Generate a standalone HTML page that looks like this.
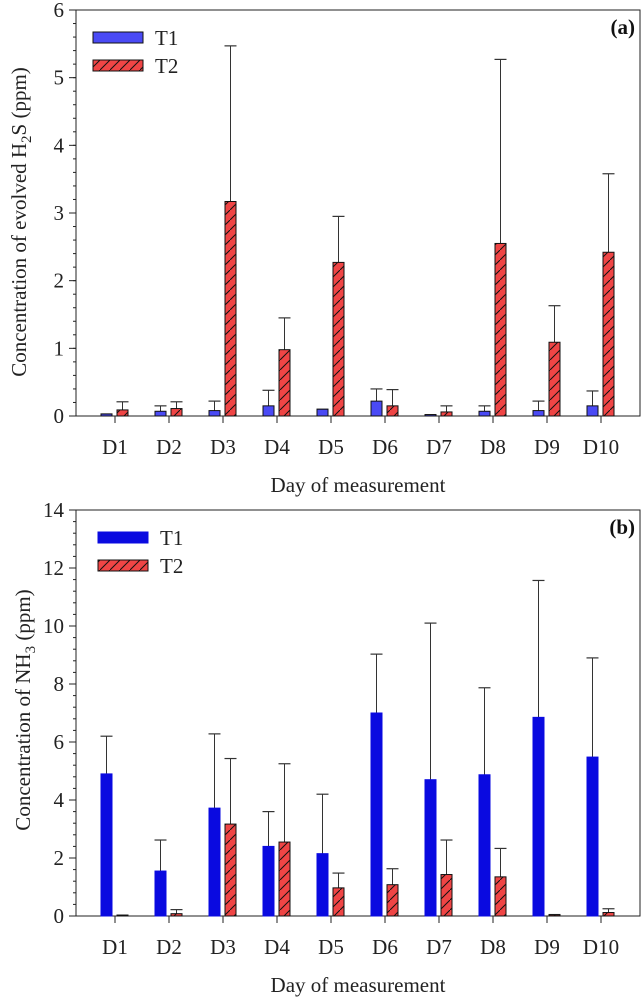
<!DOCTYPE html>
<html><head><meta charset="utf-8">
<style>
html,body{margin:0;padding:0;background:#fff;}
svg{display:block;font-family:"Liberation Serif",serif;}
</style></head>
<body>
<svg id="chart" width="644" height="998" viewBox="0 0 644 998" xmlns="http://www.w3.org/2000/svg">
<defs>
<pattern id="hatch" patternUnits="userSpaceOnUse" width="10" height="10">
<rect width="10" height="10" fill="#ef4545"/>
<path d="M-2,12 L12,-2" stroke="#111" stroke-width="1"/>
</pattern>
</defs>
</svg>
<script>
const categories = ["D1","D2","D3","D4","D5","D6","D7","D8","D9","D10"];
const h2sT1 = [0.03,0.07,0.08,0.15,0.10,0.22,0.02,0.07,0.08,0.15];
const h2sT1Err = [0.03,0.15,0.22,0.38,0.10,0.40,0.02,0.15,0.22,0.37];
const h2sT2 = [0.09,0.11,3.17,0.98,2.27,0.15,0.06,2.55,1.09,2.42];
const h2sT2Err = [0.21,0.21,5.47,1.45,2.95,0.39,0.15,5.27,1.63,3.58];
const nh3T1 = [4.9,1.55,3.72,2.4,2.15,7.0,4.7,4.87,6.85,5.48];
const nh3T1Err = [6.2,2.62,6.28,3.6,4.2,9.03,10.1,7.87,11.57,8.9];
const nh3T2 = [0.03,0.08,3.17,2.55,0.97,1.08,1.43,1.35,0.04,0.12];
const nh3T2Err = [0.03,0.22,5.43,5.25,1.48,1.63,2.62,2.33,0.05,0.25];
const h2sTicks = [0,1,2,3,4,5,6];
const nh3Ticks = [0,2,4,6,8,10,12,14];

const svg = document.getElementById('chart');
const NS = "http://www.w3.org/2000/svg";
function mk(tag, attrs, parent){
  const e = document.createElementNS(NS, tag);
  for (const k in attrs) e.setAttribute(k, attrs[k]);
  (parent||svg).appendChild(e);
  return e;
}

function panel(cfg){
  const g = mk('g', {});
  
  
  const L=76, R=640, T=cfg.top, B=cfg.top+406;
  const y = v => B - (v/cfg.max)*(B-T);
  const xc = i => 115 + i*54;
  const frame = mk('rect', {x:L, y:T, width:R-L, height:B-T, fill:'none', stroke:'#222', 'stroke-width':1}, g);
  
  
  const minorStep = cfg.major/5;
  for (let v=0; v<=cfg.max+1e-9; v+=minorStep){
    mk('line', {x1:L-3, x2:L, y1:y(v), y2:y(v), stroke:'#222'}, g);
  }
  cfg.ticks.forEach(t=>{
    mk('line', {x1:L-7, x2:L, y1:y(t), y2:y(t), stroke:'#222'}, g);
    const tx = mk('text', {x:L-12, y:y(t)+7, 'text-anchor':'end', 'font-size':21, fill:'#222'}, g);
    tx.textContent = t;
    
    
  });
  categories.forEach((c,i)=>{
    mk('line', {x1:xc(i), x2:xc(i), y1:B, y2:B+7, stroke:'#222'}, g);
    const tx = mk('text', {x:xc(i), y:B+38, 'text-anchor':'middle', 'font-size':21, fill:'#222'}, g);
    tx.textContent = c;
    
    
  });
  function drawSeries(vals, errs, off, fill, stroke, nm){
    vals.forEach((v,i)=>{
      const cx = xc(i)+off;
      const et = y(errs[i]);
      mk('line', {x1:cx, x2:cx, y1:et, y2:y(v), stroke:'#333', 'stroke-width':1}, g);
      mk('line', {x1:cx-6, x2:cx+6, y1:et, y2:et, stroke:'#333', 'stroke-width':1.2}, g);
      const r = mk('rect', {x:cx-5.5, y:y(v), width:11, height:Math.max(B-y(v),0.5), fill:fill, stroke:stroke, 'stroke-width':1}, g);
      
      
    });
  }
  drawSeries(cfg.t1, cfg.t1e, -8.5, cfg.t1fill, cfg.t1stroke, 't1');
  drawSeries(cfg.t2, cfg.t2e, 7.5, 'url(#hatch)', '#111', 't2');
  const l1 = mk('rect', {x:cfg.legX, y:T+22, width:50, height:11, fill:cfg.t1fill, stroke:cfg.t1stroke}, g);
  
  
  const l2 = mk('rect', {x:cfg.legX, y:T+50, width:50, height:11, fill:'url(#hatch)', stroke:'#111'}, g);
  
  
  const lt1 = mk('text', {x:cfg.legX+62, y:T+35, 'font-size':21, fill:'#222'}, g);
  lt1.textContent = 'T1';
  
  
  const lt2 = mk('text', {x:cfg.legX+62, y:T+63, 'font-size':21, fill:'#222'}, g);
  lt2.textContent = 'T2';
  
  
  const pl = mk('text', {x:R-5, y:T+24, 'text-anchor':'end', 'font-size':21, 'font-weight':'bold', fill:'#111'}, g);
  pl.textContent = cfg.label;
  
  
  const xt = mk('text', {x:358, y:B+76, 'text-anchor':'middle', 'font-size':21, fill:'#222'}, g);
  xt.textContent = 'Day of measurement';
  
  
  const yt = mk('text', {x:0, y:0, 'text-anchor':'middle', 'font-size':21, fill:'#222', transform:`translate(${cfg.ytX},${cfg.ytY}) rotate(-90)`}, g);
  yt.innerHTML = cfg.ytitle;
  
  
}

panel({name:'panel-a-h2s', top:10, max:6, major:1, ticks:h2sTicks,
  t1:h2sT1, t1e:h2sT1Err, t2:h2sT2, t2e:h2sT2Err,
  t1fill:'#4a4af5', t1stroke:'#111', legX:93, label:'(a)', ytX:26, ytY:222,
  ytitle:'Concentration of evolved H<tspan font-size="15" dy="5">2</tspan><tspan dy="-5">S (ppm)</tspan>'});
panel({name:'panel-b-nh3', top:510, max:14, major:2, ticks:nh3Ticks,
  t1:nh3T1, t1e:nh3T1Err, t2:nh3T2, t2e:nh3T2Err,
  t1fill:'#0a0ae0', t1stroke:'#0a0ae0', legX:98, label:'(b)', ytX:30, ytY:710,
  ytitle:'Concentration of NH<tspan font-size="15" dy="5">3</tspan><tspan dy="-5"> (ppm)</tspan>'});
</script>
</body></html>
